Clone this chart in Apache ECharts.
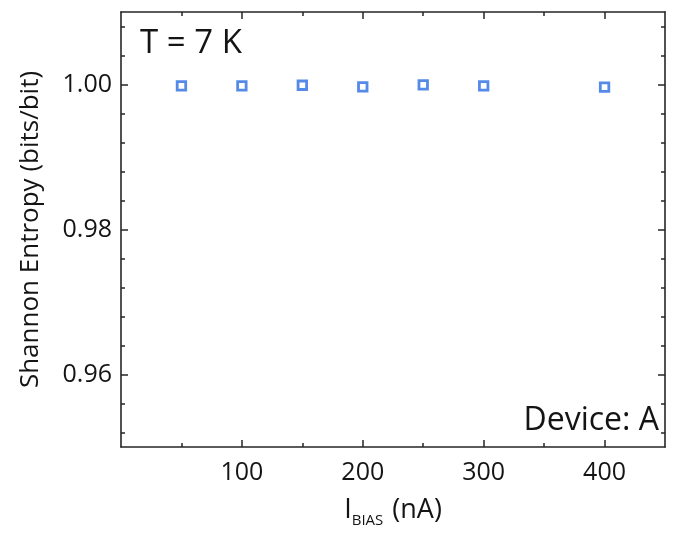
<!DOCTYPE html>
<html>
<head>
<meta charset="utf-8">
<script src="https://cdn.jsdelivr.net/npm/echarts@6/dist/echarts.min.js"></script>
<style>
  html, body { margin: 0; padding: 0; background: #fff; }
  #chart { width: 673px; height: 533px; }
</style>
</head>
<body>
<div id="chart"></div>
<script>
// Shannon entropy of the bit stream versus bias current (T = 7 K, device A)
const biasCurrent = [50, 100, 150, 200, 250, 300, 400];          // nA
const entropy     = [0.99981, 0.99981, 0.99990, 0.99967, 0.99994, 0.99981, 0.99963]; // bits/bit

const xMajorTicks = [100, 200, 300, 400];
const xMinorTicks = [50, 150, 250, 350];
const yMajorTicks = [0.96, 0.98, 1.00];
const yMinorTicks = [0.952, 0.956, 0.964, 0.968, 0.972, 0.976,
                     0.984, 0.988, 0.992, 0.996, 1.004, 1.008];

const xRange = [0, 450];
const yRange = [0.95, 1.01];

const FONT = '"Open Sans", "Noto Sans", sans-serif';
const INK = '#141414';
const LINE = '#262626';
const MARK = '#2b6de3';

const chart = echarts.init(document.getElementById('chart'), null, { renderer: 'canvas' });

// One axis per side carries the line, major ticks and labels; a twin carries the minor ticks.
function xAxisPair(position) {
  const isBottom = position === 'bottom';
  return [
    {
      type: 'value', position, min: xRange[0], max: xRange[1],
      axisLine: { show: true, onZero: false, lineStyle: { color: LINE, width: 1.6 } },
      axisTick: { show: true, inside: true, length: 7, customValues: xMajorTicks,
                  lineStyle: { color: LINE, width: 1.5 } },
      axisLabel: { show: isBottom, customValues: xMajorTicks, margin: 13,
                   color: INK, fontFamily: FONT, fontSize: 25 },
      splitLine: { show: false },
      name: isBottom ? '{a|I}{b|BIAS}{a| (nA)}' : '',
      nameLocation: 'middle', nameGap: 46,
      nameTextStyle: {
        rich: {
          a: { fontFamily: FONT, fontSize: 27, color: INK },
          b: { fontFamily: FONT, fontSize: 15, color: INK, padding: [20, 2, 0, 0] }
        }
      }
    },
    {
      type: 'value', position, min: xRange[0], max: xRange[1],
      axisLine: { show: false, onZero: false },
      axisTick: { show: true, inside: true, length: 4, customValues: xMinorTicks,
                  lineStyle: { color: LINE, width: 1.5 } },
      axisLabel: { show: false },
      splitLine: { show: false }
    }
  ];
}

function yAxisPair(position) {
  const isLeft = position === 'left';
  return [
    {
      type: 'value', position, min: yRange[0], max: yRange[1],
      axisLine: { show: true, onZero: false, lineStyle: { color: LINE, width: 1.6 } },
      axisTick: { show: true, inside: true, length: 7, customValues: yMajorTicks,
                  lineStyle: { color: LINE, width: 1.5 } },
      axisLabel: { show: isLeft, customValues: yMajorTicks, margin: 9,
                   color: INK, fontFamily: FONT, fontSize: 25,
                   formatter: v => v.toFixed(2) },
      splitLine: { show: false },
      name: isLeft ? 'Shannon Entropy (bits/bit)' : '',
      nameLocation: 'middle', nameRotate: 90, nameGap: 77,
      nameTextStyle: { fontFamily: FONT, fontSize: 26, color: INK }
    },
    {
      type: 'value', position, min: yRange[0], max: yRange[1],
      axisLine: { show: false, onZero: false },
      axisTick: { show: true, inside: true, length: 4, customValues: yMinorTicks,
                  lineStyle: { color: LINE, width: 1.5 } },
      axisLabel: { show: false },
      splitLine: { show: false }
    }
  ];
}

const option = {
  backgroundColor: '#fff',
  animation: false,
  grid: { left: 121, right: 8, top: 12, bottom: 86 },
  xAxis: [...xAxisPair('bottom'), ...xAxisPair('top')],
  yAxis: [...yAxisPair('left'), ...yAxisPair('right')],
  series: [{
    type: 'scatter',
    xAxisIndex: 0, yAxisIndex: 0,
    data: biasCurrent.map((x, i) => [x, entropy[i]]),
    symbol: 'rect',
    symbolSize: 8.5,
    itemStyle: { color: '#fff', borderColor: MARK, borderWidth: 2.8 }
  }],
  graphic: [
    { type: 'text', left: 140, top: 27,
      style: { text: 'T = 7 K', fontFamily: FONT, fontSize: 33, fill: INK } },
    { type: 'text', right: 14, top: 405,
      style: { text: 'Device: A', fontFamily: FONT, fontSize: 32, fill: INK } }
  ]
};

chart.setOption(option);
</script>
</body>
</html>
